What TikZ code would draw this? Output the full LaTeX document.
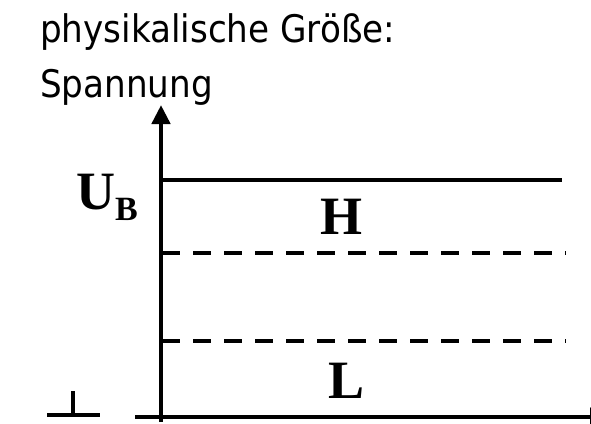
\documentclass[tikz,border=0pt]{standalone}
\usepackage{fontspec}
\setmainfont{Liberation Serif}
\newfontfamily\titelfont{DejaVu Sans Condensed}
\usetikzlibrary{arrows.meta,positioning}
\tikzset{
  achse/.style={line width=4.5pt, -{Triangle[length=19pt,width=18pt]}},
  pegel/.style={line width=4.5pt},
  grenze/.style={line width=4.5pt, dash pattern=on 18pt off 13pt},
  masse/.style={line width=4.5pt},
  titel/.style={font=\titelfont\fontsize{38}{44}\selectfont, anchor=base west, inner sep=0pt},
  zeichen/.style={font=\fontsize{54}{60}\selectfont\bfseries, inner sep=0pt},
}

\begin{document}
\begin{tikzpicture}[x=1pt,y=-1pt]
    \useasboundingbox (0,0) rectangle (591,423);
    \clip (0,0) rectangle (591,423);
    % Ueberschrift
    \node[titel] (t1) at (40,42) {physikalische Größe:};
    \node[titel] (t2) at (40,97) {Spannung};
    % Achsen
    \coordinate (yfuss) at (161,422);
    \coordinate (yspitze) at (161,105);
    \coordinate (xanf) at (135,417);
    \coordinate (xspitze) at (609,417);
    \draw[achse] (yfuss) -- (yspitze);
    \draw[achse] (xanf) -- (xspitze);
    % Pegel
    \coordinate (ub1) at (159,180);   \coordinate (ub2) at (562,180);
    \coordinate (ho1) at (162,253);   \coordinate (ho2) at (566,253);
    \coordinate (lo1) at (162,341);   \coordinate (lo2) at (566,341);
    \draw[pegel] (ub1) -- (ub2);
    \draw[grenze] (ho1) -- (ho2);
    \draw[grenze] (lo1) -- (lo2);
    \node[zeichen, anchor=base west] (ub) at (76,209) {U\raisebox{-11pt}{\fontsize{34}{36}\selectfont B}};
    \node[zeichen, anchor=base] (h) at (341,234) {H};
    \node[zeichen, anchor=base] (l) at (347,398) {L};
    % Masse
    \coordinate (m1) at (47,415);  \coordinate (m2) at (100,415);
    \coordinate (m3) at (73,391);  \coordinate (m4) at (73,415);
    \draw[masse] (m1) -- (m2);
    \draw[masse] (m3) -- (m4);
\end{tikzpicture}
\end{document}
